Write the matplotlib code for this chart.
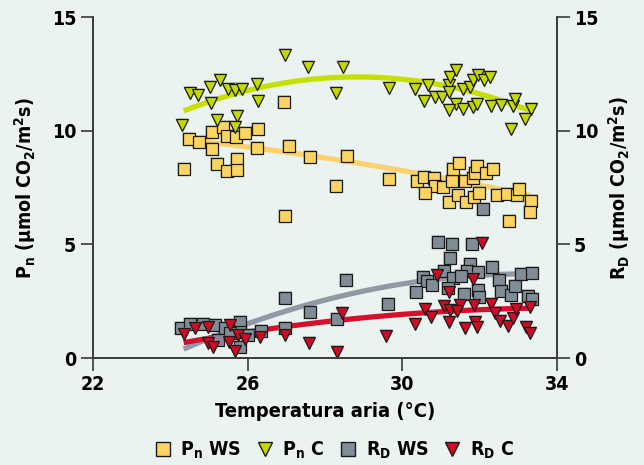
import numpy as np
import matplotlib
matplotlib.use('Agg')
import matplotlib.pyplot as plt
from matplotlib.lines import Line2D

plt.rcParams['font.family'] = ['DejaVu Sans']
plt.rcParams['font.weight'] = 'bold'
plt.rcParams['font.stretch'] = 'condensed'
plt.rcParams['mathtext.default'] = 'regular'

# P_n WS (squares)
pn_ws_x = [24.35, 24.49, 24.74, 25.09, 25.37, 25.47, 25.69, 25.93, 26.28, 25.09, 26.25, 27.06, 27.61,
           25.20, 25.73, 25.48, 25.72, 26.97, 26.95, 28.56, 28.28, 29.66, 30.39, 30.56, 30.82, 30.84,
           31.06, 30.59, 31.29, 31.32, 31.47, 31.62, 31.84, 31.88, 31.94, 32.16, 32.35, 31.21, 31.45,
           31.65, 31.85, 31.99, 32.46, 32.71, 32.96, 33.02, 33.32, 33.30, 32.77]
pn_ws_y = [8.30, 9.63, 9.50, 9.94, 10.15, 9.78, 9.74, 9.89, 10.07, 9.21, 9.25, 9.33, 8.83,
           8.53, 8.75, 8.24, 8.27, 6.25, 11.28, 8.89, 7.58, 7.88, 7.79, 7.95, 7.93, 7.57,
           7.54, 7.27, 7.79, 8.32, 8.59, 7.79, 7.91, 8.13, 8.46, 8.15, 8.32, 6.88, 7.17,
           6.85, 7.10, 7.27, 7.17, 7.20, 7.17, 7.46, 6.91, 6.44, 6.02]

# P_n C (triangles)
pn_c_x = [26.97, 27.57, 24.51, 24.72, 25.04, 25.28, 25.50, 25.67, 25.87, 26.25, 25.06, 26.27, 24.31,
          25.20, 25.72, 25.67, 28.47, 28.28, 29.65, 30.33, 30.66, 30.56, 30.84, 31.02, 31.21, 31.23,
          31.40, 31.21, 31.58, 31.75, 31.84, 31.96, 32.11, 32.27, 31.40, 31.21, 31.56, 31.84, 31.92,
          32.28, 32.54, 32.85, 32.91, 33.32, 33.17, 32.80]
pn_c_y = [13.33, 12.82, 11.67, 11.57, 11.94, 12.23, 11.83, 11.79, 11.83, 12.05, 11.23, 11.32, 10.25,
          10.47, 10.65, 10.15, 12.82, 11.65, 11.89, 11.82, 12.01, 11.31, 11.50, 11.50, 12.01, 12.38,
          12.67, 11.72, 11.86, 11.94, 12.23, 12.45, 12.23, 12.35, 11.20, 10.91, 10.94, 11.03, 11.20,
          11.09, 11.13, 11.09, 11.39, 10.94, 10.50, 10.06]

# R_D WS (squares)
rd_ws_x = [26.97, 27.61, 24.29, 24.51, 24.85, 25.17, 25.41, 25.80, 25.80, 26.02, 26.36, 26.97, 25.24,
           25.80, 25.54, 28.54, 29.64, 28.30, 32.09, 30.93, 31.29, 31.81, 31.23, 31.75, 32.31, 31.08,
           31.66, 31.95, 30.54, 30.63, 30.76, 31.30, 31.51, 30.35, 31.19, 31.59, 31.96, 31.99, 32.50,
           32.54, 32.81, 32.91, 33.07, 33.36, 33.26, 33.36]
rd_ws_y = [2.65, 2.04, 1.31, 1.52, 1.52, 1.45, 1.31, 1.60, 1.16, 1.01, 1.19, 1.31, 0.79,
           0.50, 1.09, 3.43, 2.40, 1.70, 6.54, 5.12, 5.02, 5.02, 4.41, 4.14, 4.02, 3.83,
           3.83, 3.80, 3.58, 3.40, 3.21, 3.53, 3.62, 2.92, 3.09, 2.80, 2.99, 2.70, 3.43,
           2.96, 2.77, 3.17, 3.68, 3.73, 2.74, 2.58]

# R_D C (triangles)
rd_c_x = [24.36, 24.64, 24.98, 25.54, 25.76, 25.93, 26.32, 26.97, 27.59, 24.98, 25.11, 25.52, 25.67,
          28.43, 28.30, 29.59, 30.33, 30.59, 30.74, 30.89, 31.08, 31.23, 31.21, 31.49, 31.42, 31.62,
          31.85, 31.88, 31.94, 32.05, 32.28, 32.40, 32.53, 32.74, 32.85, 32.94, 33.21, 33.30, 33.30,
          31.20, 31.83]
rd_c_y = [1.04, 1.33, 1.38, 1.45, 1.01, 0.82, 0.91, 1.01, 0.67, 0.67, 0.50, 0.72, 0.32,
          1.97, 0.28, 0.97, 1.52, 2.18, 1.82, 3.65, 2.29, 2.11, 1.60, 2.33, 2.08, 1.33,
          2.33, 1.60, 1.38, 5.05, 2.40, 1.97, 1.64, 1.41, 1.75, 2.18, 1.38, 1.11, 2.26,
          2.90, 3.47]

# fitted trend lines
curve_x = [24.35, 25.97, 28.3, 30.22, 31.81, 33.3]
pn_c_curve = [10.78, 11.94, 12.30, 12.16, 11.72, 10.91]
pn_ws_curve = [9.6, 9.30, 8.85, 8.13, 7.54, 7.24]
rd_ws_curve = [0.38, 1.53, 2.62, 3.36, 3.61, 3.70]
rd_c_curve = [0.67, 1.16, 1.62, 1.97, 2.11, 2.19]

bg = '#ebf3f0'
c_yellow = '#fcd462'
c_green = '#c3d900'
c_gray = '#808c96'
c_red = '#cf0a24'

fig, ax = plt.subplots(figsize=(6.44, 4.65), dpi=100)
fig.patch.set_facecolor(bg)
ax.set_facecolor(bg)
fig.subplots_adjust(left=0.144, right=0.865, bottom=0.230, top=0.963)

xs = np.linspace(curve_x[0], curve_x[-1], 100)
for cy, col in [(pn_c_curve, '#c6df00'), (pn_ws_curve, '#fdd26e'),
                (rd_ws_curve, '#8f9aa4'), (rd_c_curve, '#d5102c')]:
    p = np.polyfit(curve_x, cy, 2)
    ax.plot(xs, np.polyval(p, xs), color=col, lw=3.8, solid_capstyle='butt', zorder=2)

mk = dict(linestyle='none', markersize=8.5, markeredgecolor='#1a1a1a', markeredgewidth=0.9, zorder=3)
for sx, sy, m, c in [(pn_ws_x, pn_ws_y, 's', c_yellow), (pn_c_x, pn_c_y, 'v', c_green),
                     (rd_ws_x, rd_ws_y, 's', c_gray), (rd_c_x, rd_c_y, 'v', c_red)]:
    # soft grey halo around the markers
    ax.plot(sx, sy, linestyle='none', marker=m, markersize=10, color='#8a8f8c', alpha=0.35,
            markeredgewidth=0, zorder=3)
    ax.plot(sx, sy, marker=m, markerfacecolor=c, **mk)

ax.set_xlim(22, 34)
ax.set_ylim(0, 15)
ax.set_xticks([22, 26, 30, 34])
ax.set_yticks([0, 5, 10, 15])

ax2 = ax.twinx()
ax2.set_ylim(0, 15)
ax2.set_yticks([0, 5, 10, 15])

for a in (ax, ax2):
    a.spines['top'].set_visible(False)
    for s in a.spines.values():
        s.set_color('#3a3a3a')
        s.set_linewidth(1.2)
    a.tick_params(length=9, width=1.2, color='#3a3a3a', labelsize=14, pad=3)

ax.set_xlabel('Temperatura aria (°C)', fontsize=14.5, fontweight='bold', labelpad=6)
ax.set_ylabel(r'P$_{n}$ (µmol CO$_{2}$/m$^{2}$s)', fontsize=14, fontweight='bold', labelpad=10)
ax2.set_ylabel(r'R$_{D}$ (µmol CO$_{2}$/m$^{2}$s)', fontsize=14, fontweight='bold', labelpad=6,
               rotation=90)

handles = [
    Line2D([], [], marker='s', color='none', markerfacecolor=c_yellow, markeredgecolor='#1a1a1a', markersize=10),
    Line2D([], [], marker='v', color='none', markerfacecolor=c_green, markeredgecolor='#1a1a1a', markersize=10),
    Line2D([], [], marker='s', color='none', markerfacecolor=c_gray, markeredgecolor='#1a1a1a', markersize=10),
    Line2D([], [], marker='v', color='none', markerfacecolor=c_red, markeredgecolor='#1a1a1a', markersize=10),
]
labels = [r'P$_{n}$ WS', r'P$_{n}$ C', r'R$_{D}$ WS', r'R$_{D}$ C']
fig.legend(handles, labels, loc='center', bbox_to_anchor=(0.518, 0.032), ncol=4, frameon=False,
           prop={'size': 14, 'weight': 'bold', 'stretch': 'condensed'}, handletextpad=0.4,
           columnspacing=0.7, handlelength=1.0)

fig.savefig('out.png', dpi=100, facecolor=bg)
